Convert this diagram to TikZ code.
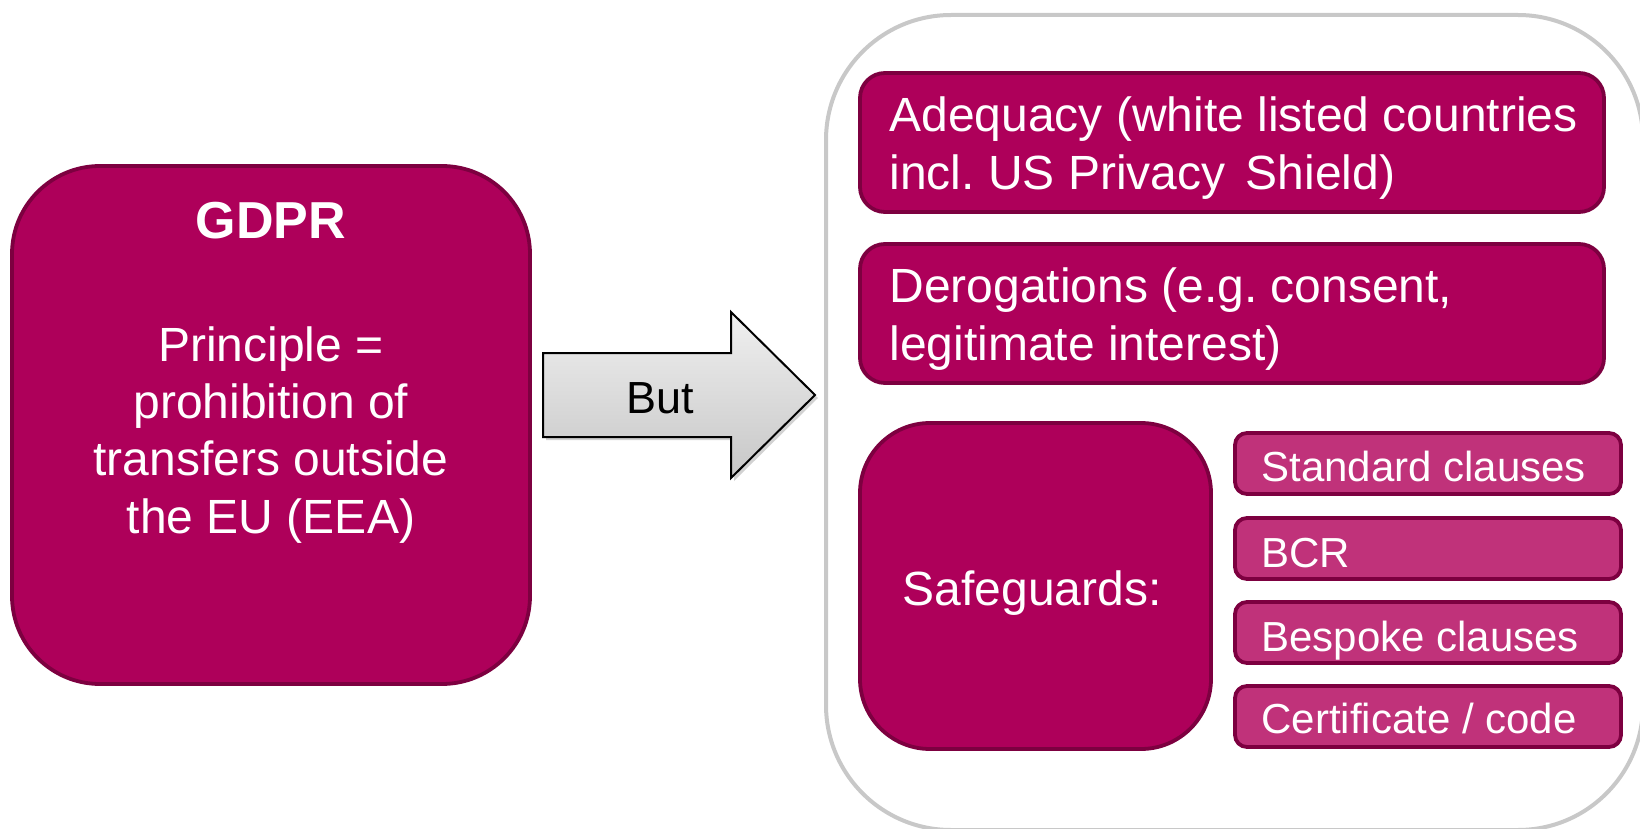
\documentclass[tikz,border=0pt]{standalone}
\usepackage{fontspec}
\setmainfont{Liberation Sans}
\usetikzlibrary{shadows}
\frenchspacing
\definecolor{mag}{RGB}{174,0,90}
\definecolor{magd}{RGB}{125,0,64}
\definecolor{magl}{RGB}{192,50,122}
\definecolor{outl}{RGB}{200,200,200}
\tikzset{
  mainbox/.style={draw=magd, fill=mag, line width=1.9pt, rounded corners=#1, inner sep=0pt},
  subbox/.style={draw=magd, fill=magl, line width=1.9pt, rounded corners=6pt, inner sep=0pt,
                 minimum width=193pt, minimum height=30.5pt},
  outerbox/.style={draw=outl, line width=2pt, rounded corners=62.5pt, inner sep=0pt},
  wtxt/.style={text=white, inner sep=0pt, font=\fontsize{24pt}{28pt}\selectfont},
  stxt/.style={text=white, inner sep=0pt, anchor=base west, font=\fontsize{21pt}{25pt}\selectfont},
  arrowshape/.style={draw=black, line width=1pt, top color=white!94!black, bottom color=white!78!black,
                 drop shadow={opacity=0.35, shadow xshift=1.5pt, shadow yshift=-1.5pt}}
}
\begin{document}
\begin{tikzpicture}[x=0.5pt,y=-0.5pt]
\useasboundingbox (0,0) rectangle (1640,829);
\clip (0,0) rectangle (1640,829);
\fill[white] (0,0) rectangle (1640,829);

% left box
\node[mainbox=44pt, minimum width=259pt, minimum height=259pt] (gdpr) at (271,425) {};
\node[wtxt, anchor=base, font=\fontsize{26pt}{30pt}\selectfont\bfseries] (gtitle) at (271,238) {GDPR};
\node[wtxt, anchor=base] (g1) at (271,361) {Principle =};
\node[wtxt, anchor=base] (g2) at (271,418.5) {prohibition of};
\node[wtxt, anchor=base] (g3) at (271,475.5) {transfers outside};
\node[wtxt, anchor=base] (g4) at (271,533) {the EU (EEA)};

% arrow
\path[arrowshape] (543,353) -- (731,353) -- (731,312) -- (815,395) -- (731,478) -- (731,437) -- (543,437) -- cycle;
\node[inner sep=0pt, anchor=base, font=\fontsize{22.5pt}{26pt}\selectfont] (but) at (660,413) {But};

% right container
\node[outerbox, minimum width=408.5pt, minimum height=407.5pt] (outer) at (1234.5,422.5) {};

\node[mainbox=12.5pt, minimum width=372pt, minimum height=69.5pt] (adeq) at (1232,142.5) {};
\node[wtxt, anchor=base west] (a1) at (889,132) {Adequacy (white listed countries};
\node[wtxt, anchor=base west] (a2) at (889,190) {incl. US Privacy\hspace{0.15em} Shield)};

\node[mainbox=12.5pt, minimum width=372pt, minimum height=69.5pt] (derog) at (1232,313.5) {};
\node[wtxt, anchor=base west] (d1) at (889,302) {Derogations (e.g. consent,};
\node[wtxt, anchor=base west] (d2) at (889,360) {legitimate interest)};

\node[mainbox=35pt, minimum width=175.5pt, minimum height=163pt] (safe) at (1035.5,586) {};
\node[wtxt, anchor=base] (s1) at (1032,605) {Safeguards:};

\node[subbox] (std) at (1428,463.5) {};
\node[stxt] (stdt) at (1261,481) {Standard clauses};
\node[subbox] (bcr) at (1428,548.5) {};
\node[stxt] (bcrt) at (1261,567) {BCR};
\node[subbox] (besp) at (1428,632.5) {};
\node[stxt] (bespt) at (1261,651) {Bespoke clauses};
\node[subbox] (cert) at (1428,716.5) {};
\node[stxt] (certt) at (1261,733) {Certificate / code};
\end{tikzpicture}
\end{document}
